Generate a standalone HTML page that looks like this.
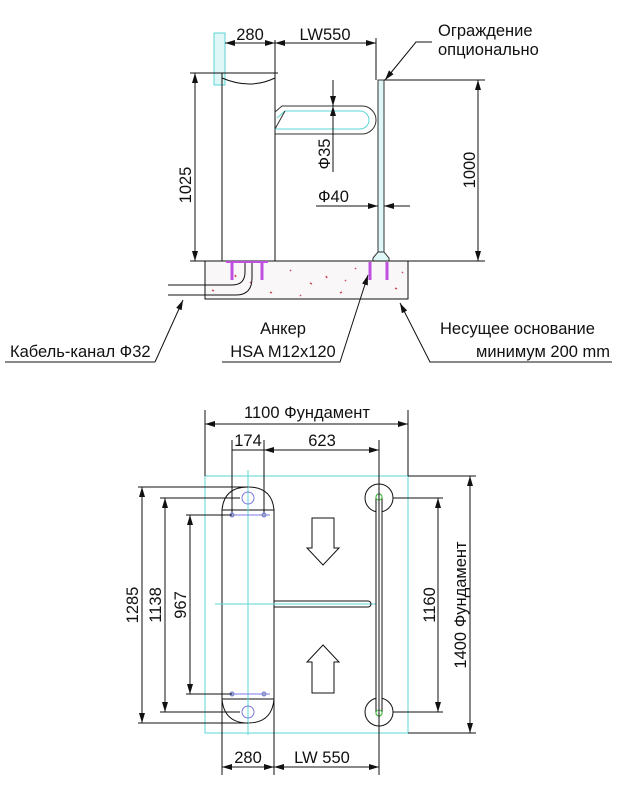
<!DOCTYPE html>
<html><head><meta charset="utf-8"><style>
html,body{margin:0;padding:0;background:#fff}
svg{display:block}
text{font-family:"Liberation Sans","DejaVu Sans",sans-serif;font-size:16.5px;fill:#111}
.m{text-anchor:middle}
</style></head><body>
<svg width="632" height="791" viewBox="0 0 632 791" xmlns="http://www.w3.org/2000/svg">
<defs>
<marker id="a" markerWidth="10" markerHeight="6" refX="10" refY="3" orient="auto-start-reverse" markerUnits="userSpaceOnUse"><path d="M0,0 L10,3 L0,6z" fill="#111"/></marker>
</defs>
<g stroke="#111" stroke-width="1" fill="none">
<rect x="214" y="33" width="11" height="52" stroke="#5cd6d6" fill="#dff7f7"/>
<line x1="222" y1="73" x2="222" y2="261"/>
<line x1="275" y1="40" x2="275" y2="261"/>
<path d="M222 78 Q250 90 275 78"/>
<line x1="190" y1="73" x2="278" y2="73"/>
<path d="M275 112 L282 106 L362 106 A14 14 0 0 1 362 134 L275 134" stroke="#333"/>
<path d="M277 118 L285 111 L360 111 A9 9 0 0 1 360 129 L275 129" stroke="#5cd6d6"/>
<line x1="275" y1="129" x2="285" y2="111" stroke="#333"/>
<rect x="378" y="80" width="6" height="174" fill="#dff7f7" stroke="#333"/>
<path d="M373 258 L378 252 L384 252 L389 258 L389 261 L373 261z" fill="#dff7f7" stroke="#333"/>
<line x1="384" y1="80" x2="485" y2="80"/>
<line x1="376" y1="38" x2="376" y2="80"/>
<line x1="190" y1="261" x2="485" y2="261"/>
<rect x="205" y="261" width="203" height="38" fill="#f9f7f7"/>
<path d="M168 285 L232 285 Q245 285 245 272 L245 261"/>
<path d="M168 295 L236 295 Q252 295 252 278 L252 261"/>
<g stroke="#c050e0" stroke-width="3">
<line x1="232" y1="262" x2="232" y2="280"/><line x1="262" y1="262" x2="262" y2="280"/>
<line x1="370" y1="262" x2="370" y2="280"/><line x1="387" y1="262" x2="387" y2="280"/>
</g>
<line x1="226" y1="262" x2="268" y2="262" stroke="#c050e0" stroke-width="2"/>
<g stroke="#c45" stroke-width="1.5">
<path d="M212 290l2 1M235 275l1 2M270 292l2 1M290 270l1 1M310 283l2 1M326 276l1 2M340 293l2-1M355 268l1 1M300 295l1 1M395 288l2 1M402 272l1 1M250 282l1 1M345 280l1 1"/>
</g>
<line x1="225" y1="43" x2="275" y2="43" marker-start="url(#a)" marker-end="url(#a)"/>
<line x1="275" y1="43" x2="376" y2="43" marker-start="url(#a)" marker-end="url(#a)"/>
<line x1="195" y1="73" x2="195" y2="261" marker-start="url(#a)" marker-end="url(#a)"/>
<line x1="478" y1="80" x2="478" y2="261" marker-start="url(#a)" marker-end="url(#a)"/>
<line x1="333" y1="80" x2="333" y2="106" marker-end="url(#a)"/>
<line x1="333" y1="134" x2="333" y2="172"/>
<path d="M333 106 L333 134" marker-start="url(#a)"/>
<line x1="316" y1="206" x2="378" y2="206" marker-end="url(#a)"/>
<line x1="410" y1="206" x2="384" y2="206" marker-end="url(#a)"/>
<path d="M432 42 L416 42 L385 80" marker-end="url(#a)"/>
<path d="M155 362 L183 300" marker-end="url(#a)"/>
<path d="M5 362 L155 362"/>
<path d="M222 362 L340 362 L368 275" marker-end="url(#a)"/>
<path d="M612 362 L430 362 L400 303" marker-end="url(#a)"/>

<rect x="205" y="476" width="203" height="257" stroke="#5cd6d6"/>
<line x1="408" y1="476" x2="476" y2="476"/>
<line x1="205" y1="410" x2="205" y2="476"/>
<line x1="408" y1="410" x2="408" y2="476"/>
<path d="M222 510 L222 700 M274 510 L274 700 M222 510 Q224 487 248 487 Q272 487 274 510 M222 699 Q224 723 248 723 Q272 723 274 699 M222 510 L274 510 M222 699 L274 699"/>
<line x1="222" y1="700" x2="222" y2="775"/>
<line x1="274" y1="700" x2="274" y2="775"/>
<line x1="248" y1="470" x2="248" y2="735" stroke="#5cd6d6"/>
<line x1="215" y1="604" x2="376" y2="604" stroke="#5cd6d6"/>
<line x1="232" y1="440" x2="232" y2="515"/>
<line x1="264" y1="440" x2="264" y2="515"/>
<circle cx="248" cy="498" r="6" stroke="#7a7ae0"/>
<circle cx="248" cy="712" r="6" stroke="#7a7ae0"/>
<line x1="228" y1="515" x2="270" y2="515" stroke="#7a7ae0"/>
<line x1="228" y1="694" x2="270" y2="694" stroke="#7a7ae0"/>
<g fill="#9ab" stroke="#7a7ae0"><circle cx="232" cy="515" r="2"/><circle cx="264" cy="515" r="2"/><circle cx="232" cy="694" r="2"/><circle cx="264" cy="694" r="2"/></g>
<path d="M274 601 L368 601 A3 3 0 0 1 368 607 L274 607"/>
<circle cx="379" cy="498" r="14"/>
<circle cx="379" cy="712" r="14"/>
<rect x="376" y="494" width="6" height="222" rx="3" fill="#fff"/>
<circle cx="379" cy="497" r="3" stroke="#4c4"/>
<circle cx="379" cy="713" r="3" stroke="#4c4"/>
<line x1="379" y1="440" x2="379" y2="775"/>
<path d="M312 518 L334 518 L334 548 L339 548 L323 565 L307 548 L312 548z"/>
<path d="M312 693 L334 693 L334 662 L339 662 L323 645 L307 662 L312 662z"/>
<line x1="205" y1="424" x2="408" y2="424" marker-start="url(#a)" marker-end="url(#a)"/>
<line x1="232" y1="450" x2="264" y2="450"/>
<line x1="264" y1="450" x2="379" y2="450" marker-start="url(#a)" marker-end="url(#a)"/>
<line x1="222" y1="767" x2="274" y2="767" marker-start="url(#a)" marker-end="url(#a)"/>
<line x1="274" y1="767" x2="379" y2="767" marker-start="url(#a)" marker-end="url(#a)"/>
<line x1="138" y1="487" x2="248" y2="487"/><line x1="138" y1="723" x2="248" y2="723"/>
<line x1="160" y1="498" x2="240" y2="498"/><line x1="160" y1="712" x2="240" y2="712"/>
<line x1="186" y1="515" x2="232" y2="515"/><line x1="186" y1="694" x2="232" y2="694"/>
<line x1="142" y1="487" x2="142" y2="723" marker-start="url(#a)" marker-end="url(#a)"/>
<line x1="165" y1="498" x2="165" y2="712" marker-start="url(#a)" marker-end="url(#a)"/>
<line x1="190" y1="515" x2="190" y2="694" marker-start="url(#a)" marker-end="url(#a)"/>
<line x1="393" y1="498" x2="443" y2="498"/><line x1="393" y1="712" x2="443" y2="712"/>
<line x1="408" y1="733" x2="476" y2="733"/>
<line x1="438" y1="498" x2="438" y2="712" marker-start="url(#a)" marker-end="url(#a)"/>
<line x1="470" y1="476" x2="470" y2="733" marker-start="url(#a)" marker-end="url(#a)"/>
</g>
<text class="m" x="250" y="40">280</text>
<text class="m" x="325" y="40">LW550</text>
<text x="438" y="36">Ограждение</text>
<text x="438" y="55">опционально</text>
<text class="m" transform="translate(191 185) rotate(-90)">1025</text>
<text class="m" transform="translate(475 170) rotate(-90)">1000</text>
<text class="m" transform="translate(330 154) rotate(-90)">Ф35</text>
<text x="318" y="202">Ф40</text>
<text x="10" y="357">Кабель-канал Ф32</text>
<text class="m" x="283" y="334">Анкер</text>
<text class="m" x="283" y="357">HSA M12x120</text>
<text x="440" y="334">Несущее основание</text>
<text x="476" y="357">минимум 200 mm</text>
<text class="m" x="307" y="418">1100 Фундамент</text>
<text class="m" x="248" y="446">174</text>
<text class="m" x="322" y="446">623</text>
<text class="m" transform="translate(138 605) rotate(-90)">1285</text>
<text class="m" transform="translate(161 605) rotate(-90)">1138</text>
<text class="m" transform="translate(186 605) rotate(-90)">967</text>
<text class="m" transform="translate(435 605) rotate(-90)">1160</text>
<text class="m" transform="translate(466 605) rotate(-90)">1400 Фундамент</text>
<text class="m" x="248" y="763">280</text>
<text class="m" x="322" y="763">LW 550</text>
</svg>
</body></html>
